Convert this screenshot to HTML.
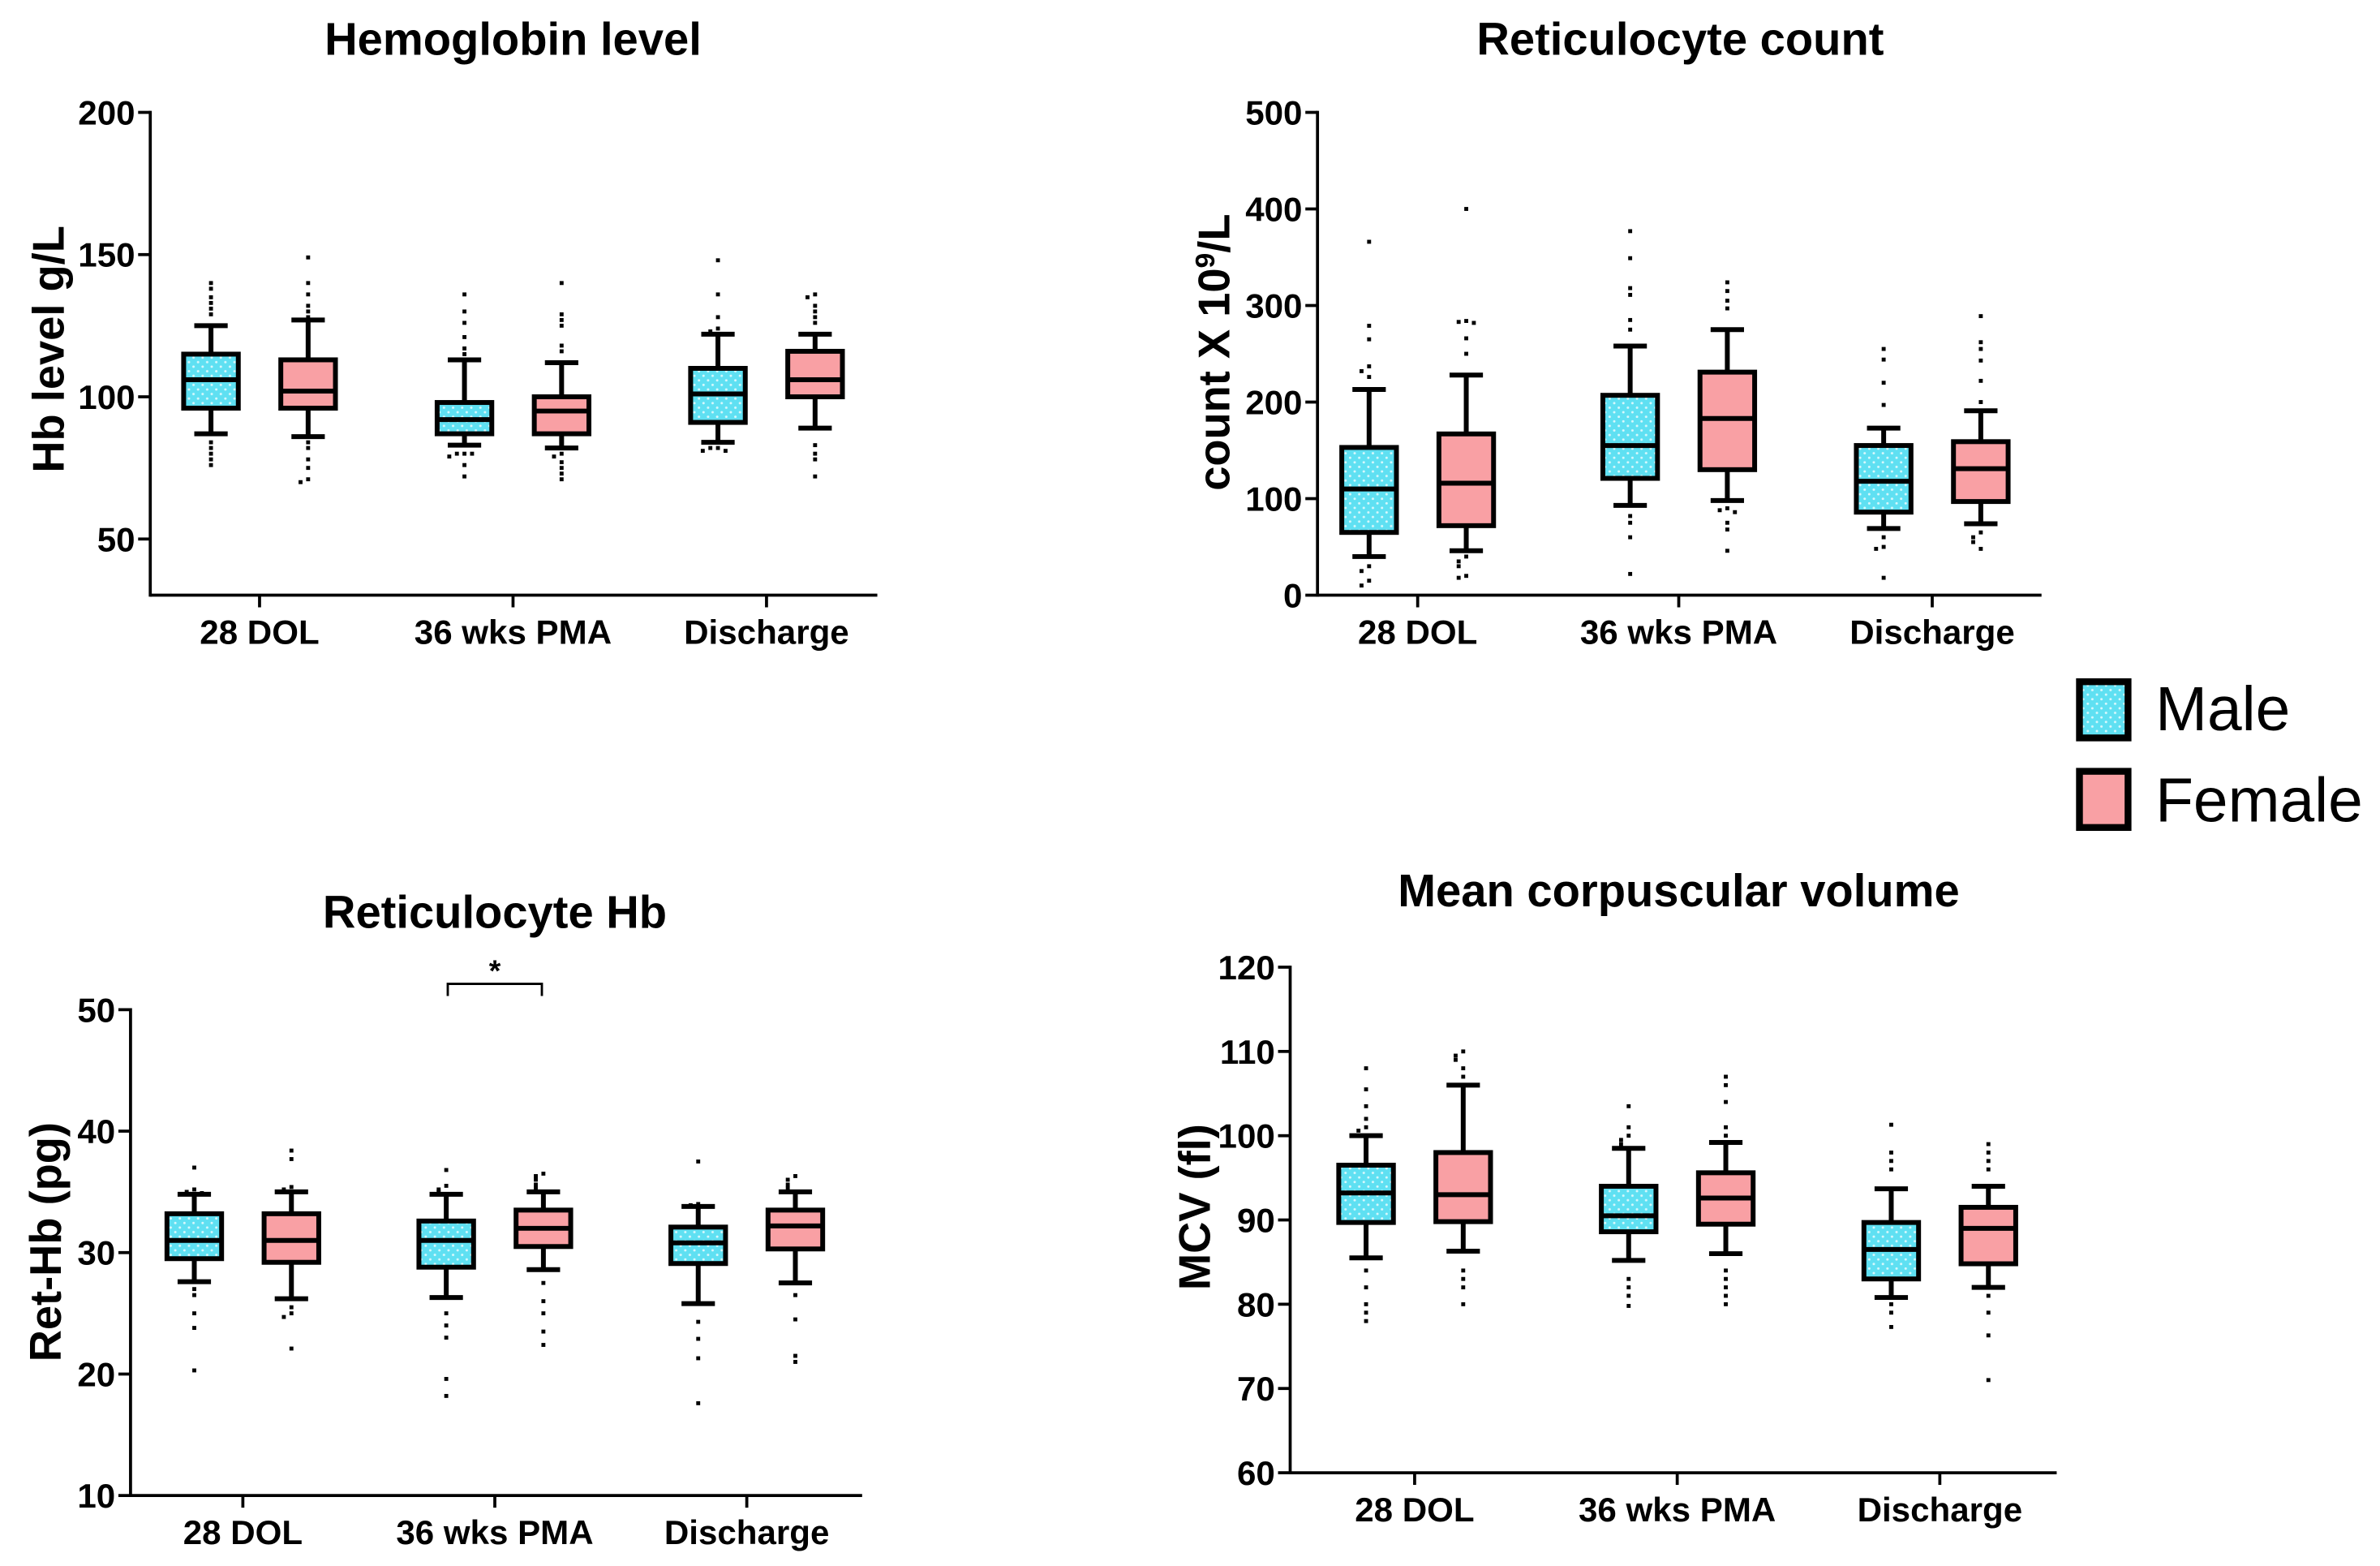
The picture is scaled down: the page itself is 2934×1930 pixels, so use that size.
<!DOCTYPE html>
<html><head><meta charset="utf-8"><style>
html,body{margin:0;padding:0;background:#fff;}
svg{display:block;font-family:"Liberation Sans",Arial,sans-serif;}
</style></head><body>
<svg id="chart" width="2934" height="1930" viewBox="0 0 1568 1031.4" xmlns="http://www.w3.org/2000/svg">
<defs>
<pattern id="dots" width="6" height="6" patternUnits="userSpaceOnUse">
<rect width="6" height="6" fill="#5fe0f2"/>
<circle cx="1.5" cy="1.5" r="0.8" fill="#d8f8fc"/>
<circle cx="4.5" cy="4.5" r="0.8" fill="#d8f8fc"/>
</pattern>
</defs>
<g>
<rect x="1370" y="449" width="32" height="37" fill="url(#dots)" stroke="#000" stroke-width="4.5"/>
<text x="1420" y="481" font-size="41">Male</text>
<rect x="1370" y="508" width="32" height="37" fill="#f9a0a4" stroke="#000" stroke-width="4.5"/>
<text x="1420" y="541" font-size="41">Female</text>
</g>
</svg>
<script>
const groups = ["28 DOL", "36 wks PMA", "Discharge"];
// [min, q1, median, q3, max]
const hbMaleStats = [[87,96,106,115,125],[83,87,92,98,113],[84,91,101,110,122]];
const hbFemaleStats = [[86,96,102,113,127],[82,87,95,100,112],[89,100,106,116,122]];
const hbMaleOut = [[140,138,135,133,131,129,84,82,80,78,76],[136,130,126,121,117,115,80,80,80,79,76,72],[148,136,128,124,123,82,82,81,81]];
const hbFemaleOut = [[149,140,136,132,130,128,84,82,78,75,71,70],[140,129,127,125,118,116,80,79,77,75,73,71],[136,135,132,130,128,126,83,80,78,72]];
const hbTicks = [50,100,150,200];

const rcMaleStats = [[40,65,110,153,213],[93,121,155,207,258],[69,86,118,155,173]];
const rcFemaleStats = [[46,72,116,167,228],[98,130,183,231,275],[74,97,131,159,191]];
const rcMaleOut = [[366,279,265,237,232,226,30,25,15,10],[377,349,318,311,285,275,82,75,60,22],[255,244,220,197,60,50,48,18]];
const rcFemaleOut = [[400,284,283,282,266,250,40,35,30,20,18],[324,315,305,297,90,88,86,75,68,46],[289,262,255,243,222,200,65,60,55,48]];
const rcTicks = [0,100,200,300,400,500];

const rhMaleStats = [[27.6,29.5,31,33.2,34.8],[26.3,28.8,31,32.6,34.8],[25.8,29.1,30.8,32.1,33.8]];
const rhFemaleStats = [[26.2,29.2,31,33.2,35],[28.6,30.5,32,33.5,35],[27.5,30.3,32.2,33.5,35]];
const rhMaleOut = [[37,35.2,35,34.9,27,26.5,25,23.8,20.3],[36.8,35.5,35.2,35,25,24,23,19.6,18.2],[37.5,34,33.9,24.3,22.9,21.3,17.6]];
const rhFemaleOut = [[38.4,37.7,35.4,35.2,25.5,25,24.7,22.1],[36.5,36.3,36,35.6,35.3,27.5,26,25,23.5,22.4],[36.3,36,35.6,35.3,26.5,24.5,21.5,21]];
const rhTicks = [10,20,30,40,50];

const mcMaleStats = [[85.5,89.7,93.2,96.5,100],[85.2,88.6,90.5,94,98.5],[80.8,83,86.5,89.7,93.7]];
const mcFemaleStats = [[86.3,89.8,93,98,106],[86,89.5,92.6,95.6,99.2],[82,84.8,89,91.5,94]];
const mcMaleOut = [[108,105.5,103.5,102,101,100.6,84,82,80,79,78],[103.5,101,100,99.5,99,83,82,81,79.8],[101.3,98,97,96,80,79,77.3]];
const mcFemaleOut = [[110,109.5,109,108,107,84,83,82,80],[107,106,104,101,100,84,83,82,81,80],[99,98,97,96,81,79,76.3,71]];
const mcTicks = [60,70,80,90,100,110,120];

const NS = "http://www.w3.org/2000/svg";
const svg = document.getElementById("chart");
function mk(tag, attrs, parent){
  const e = document.createElementNS(NS, tag);
  for (const k in attrs) e.setAttribute(k, attrs[k]);
  parent.appendChild(e); return e;
}

function panel(cfg){
  const g = mk("g", {}, svg);
  
  
  const y = v => cfg.y0px + (v - cfg.vmin) / (cfg.vmax - cfg.vmin) * (cfg.y1px - cfg.y0px);
  const x = i => cfg.gx[i];
  const t = mk("text", {x: cfg.titleX, y: cfg.titleY, "font-size": 30, "font-weight": "bold", "text-anchor": "middle"}, g);
  t.textContent = cfg.title;
  
  
  const ya = mk("line", {x1: cfg.ax, x2: cfg.ax, y1: y(cfg.vmax) - 1, y2: cfg.axisBottom + 1, stroke: "#000", "stroke-width": 2}, g);
  
  
  cfg.ticks.forEach(v => {
    mk("line", {x1: cfg.ax - 8, x2: cfg.ax, y1: y(v), y2: y(v), stroke: "#000", "stroke-width": 2}, g);
    const tl = mk("text", {x: cfg.ax - 10, y: y(v) + 8, "font-size": 22.5, "font-weight": "bold", "text-anchor": "end"}, g);
    tl.textContent = v;
    
    
  });
  const xa = mk("line", {x1: cfg.ax, x2: cfg.axRight, y1: cfg.axisBottom, y2: cfg.axisBottom, stroke: "#000", "stroke-width": 2}, g);
  
  
  groups.forEach((name, i) => {
    mk("line", {x1: x(i), x2: x(i), y1: cfg.axisBottom, y2: cfg.axisBottom + 8, stroke: "#000", "stroke-width": 2}, g);
    const xl = mk("text", {x: x(i), y: cfg.axisBottom + 32, "font-size": 22.5, "font-weight": "bold", "text-anchor": "middle"}, g);
    xl.textContent = name;
    
    
  });
  const yt = mk("text", {x: 0, y: 0, "font-size": 29, "font-weight": "bold", "text-anchor": "middle", transform: `translate(${cfg.ytX},${cfg.ytY}) rotate(-90)`}, g);
  yt.innerHTML = cfg.ytitle;
  
  
  function box(stats, outs, off, fill, sex){
    stats.forEach((s, i) => {
      const cx = x(i) + off, w = 36, cw = 22;
      const bg = mk("g", {}, g);
      
      
      const sw = 3.2;
      mk("line", {x1: cx, x2: cx, y1: y(s[0]), y2: y(s[4]), stroke: "#000", "stroke-width": sw}, bg);
      mk("line", {x1: cx - cw/2, x2: cx + cw/2, y1: y(s[0]), y2: y(s[0]), stroke: "#000", "stroke-width": sw}, bg);
      mk("line", {x1: cx - cw/2, x2: cx + cw/2, y1: y(s[4]), y2: y(s[4]), stroke: "#000", "stroke-width": sw}, bg);
      mk("rect", {x: cx - w/2, y: y(s[3]), width: w, height: y(s[1]) - y(s[3]), fill: fill, stroke: "#000", "stroke-width": sw}, bg);
      mk("line", {x1: cx - w/2, x2: cx + w/2, y1: y(s[2]), y2: y(s[2]), stroke: "#000", "stroke-width": sw}, bg);
      const placed = [];
      outs[i].forEach(v => {
        const py = y(v);
        const n = placed.filter(q => Math.abs(q - py) < 3.5).length;
        placed.push(py);
        const dx = n === 0 ? 0 : (n % 2 ? -5 : 5) * Math.ceil(n / 2);
        const p = mk("rect", {x: cx + dx - 1.3, y: py - 1.3, width: 2.6, height: 2.6, fill: "#000"}, bg);
        
        
      });
    });
  }
  box(cfg.ms, cfg.mo, -32, "url(#dots)", "male");
  box(cfg.fs, cfg.fo, 32, "#f9a0a4", "female");
  return {g, y, x};
}

panel({name:"hemoglobin-panel", title:"Hemoglobin level", titleX:338, titleY:36, vmin:50, vmax:200, y0px:355, y1px:74,
  ax:99, axRight:578, axisBottom:392, gx:[171,338,505], ticks:hbTicks, ytX:42, ytY:230, ytitle:"Hb level g/L",
  ms:hbMaleStats, fs:hbFemaleStats, mo:hbMaleOut, fo:hbFemaleOut});
panel({name:"reticulocyte-count-panel", title:"Reticulocyte count", titleX:1107, titleY:36, vmin:0, vmax:500, y0px:392, y1px:74,
  ax:868, axRight:1345, axisBottom:392, gx:[934,1106,1273], ticks:rcTicks, ytX:810, ytY:232, ytitle:'count X 10<tspan font-size="18" dy="-10">9</tspan><tspan dy="10">/L</tspan>',
  ms:rcMaleStats, fs:rcFemaleStats, mo:rcMaleOut, fo:rcFemaleOut});
const p3 = panel({name:"reticulocyte-hb-panel", title:"Reticulocyte Hb", titleX:326, titleY:611, vmin:10, vmax:50, y0px:985, y1px:665,
  ax:86, axRight:568, axisBottom:985, gx:[160,326,492], ticks:rhTicks, ytX:40, ytY:818, ytitle:"Ret-Hb (pg)",
  ms:rhMaleStats, fs:rhFemaleStats, mo:rhMaleOut, fo:rhFemaleOut});
panel({name:"mcv-panel", title:"Mean corpuscular volume", titleX:1106, titleY:597, vmin:60, vmax:120, y0px:970, y1px:637,
  ax:850, axRight:1355, axisBottom:970, gx:[932,1105,1278], ticks:mcTicks, ytX:797, ytY:795, ytitle:"MCV (fl)",
  ms:mcMaleStats, fs:mcFemaleStats, mo:mcMaleOut, fo:mcFemaleOut});

const br = mk("path", {d:"M295,656 V648 H357 V656", fill:"none", stroke:"#000", "stroke-width":1.5}, p3.g);


const st = mk("text", {x:326, y:646, "font-size":20, "font-weight":"bold", "text-anchor":"middle"}, p3.g);
st.textContent = "*";


</script>
</body></html>
